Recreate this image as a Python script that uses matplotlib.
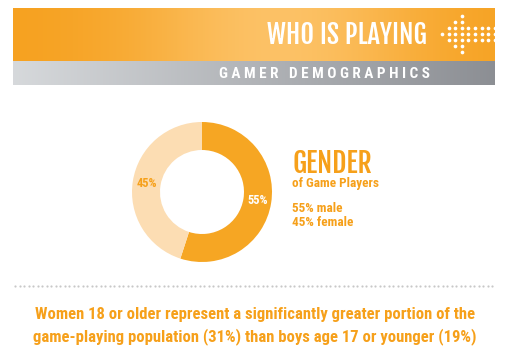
import numpy as np
import matplotlib.pyplot as plt

# data
labels = ['male', 'female']
shares = [55, 45]
colors = ['#F6A623', '#FCDDB3']
title = "WHO IS PLAYING"
subtitle = "GAMER DEMOGRAPHICS"
note = ("Women 18 or older represent a significantly greater portion of the\n"
        "game-playing population (31%) than boys age 17 or younger (19%)")

orange = '#F6A01A'
head = ['Fjalla One', 'Roboto Condensed', 'DejaVu Sans']
body = ['Roboto Condensed', 'DejaVu Sans']
plt.rcParams['font.family'] = body

fig = plt.figure(figsize=(5.16, 3.6), dpi=100)
bg = fig.add_axes([0, 0, 1, 1])

# orange banner with soft gradient
x = np.linspace(0, 1, 256)
g = np.exp(-((x - 0.55) / 0.3) ** 2)
c0 = np.array([0.965, 0.63, 0.12])
c1 = np.array([0.99, 0.76, 0.40])
band = c0[None, :] + (c1 - c0)[None, :] * g[:, None]
bg.imshow(band[None, :, :], extent=[13, 495, 61, 8], aspect='auto', zorder=1)
# grey band
gx = np.linspace(0, 1, 256)[:, None]
grey = np.array([0.84, 0.85, 0.86]) * (1 - gx) + np.array([0.55, 0.56, 0.58]) * gx
bg.imshow(grey[None, :, :], extent=[13, 495, 85, 61], aspect='auto', zorder=1)
bg.set_xlim(0, 516)
bg.set_ylim(360, 0)
bg.axis('off')

bg.text(427, 35, title, color='white', fontsize=19, family=head,
        ha='right', va='center', zorder=3)
bg.text(430, 74, '   '.join(' '.join(w) for w in subtitle.split()), color='white',
        fontsize=11, fontweight='bold', ha='right', va='center', zorder=3)

# dotted arrow icon (pointing left)
heights = [0, 1, 2, 3, 1, 1, 1, 1, 1]
for k, h in enumerate(heights):
    cx = 442 + 6.6 * k
    rows = np.arange(-h, h + 1)
    bg.scatter([cx] * len(rows), 34 + 6 * rows, s=7, color='white', zorder=3, lw=0)

# donut
ax = fig.add_axes([132 / 516, 1 - 262 / 360, 140 / 516, 140 / 360])
wedges, texts = ax.pie(shares, colors=colors, startangle=90, counterclock=False,
                       wedgeprops=dict(width=0.4, edgecolor='none'),
                       labels=[f'{s}%' for s in shares], labeldistance=0.8,
                       textprops=dict(fontsize=9, fontweight='bold', ha='center', va='center'))
texts[0].set_color('white')
texts[1].set_color(orange)
ax.set_xlim(-1, 1)
ax.set_ylim(-1, 1)
ax.set_aspect('equal')

bg.text(293, 173, 'GENDER', color=orange, fontsize=20, family=head,
        va='baseline', ha='left')
bg.text(292, 184, 'of Game Players', color=orange, fontsize=9.5, fontweight='bold', va='center')
for i, (s, l) in enumerate(zip(shares, labels)):
    bg.text(292, 209 + 14 * i, f'{s}% {l}', color=orange, fontsize=9.5, fontweight='bold', va='center')

# dotted separator
dots = np.arange(15, 495, 4.5)
bg.scatter(dots, [286] * len(dots), s=2.5, color='#C8C8C8', lw=0)

bg.text(255, 326, note, color=orange, fontsize=12, fontweight='bold', ha='center',
        va='center', linespacing=1.45)

fig.savefig('out.png', dpi=100)
